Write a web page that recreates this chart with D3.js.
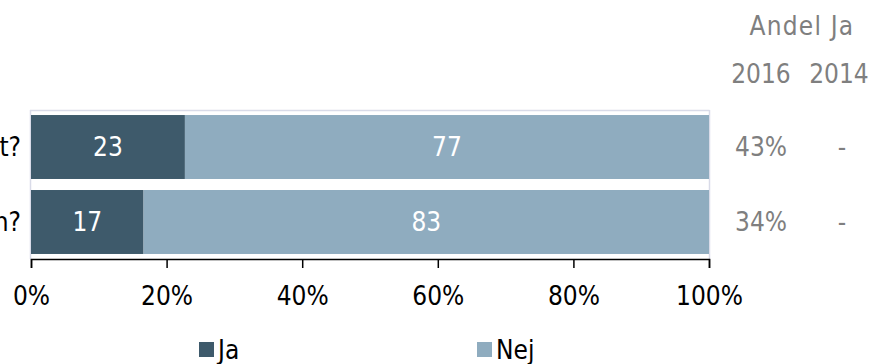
<!DOCTYPE html>
<html>
<head>
<meta charset="utf-8">
<script src="https://cdn.jsdelivr.net/npm/d3@7"></script>
<style>
  html, body { margin: 0; padding: 0; background: #fff; }
  svg { display: block; font-family: "DejaVu Sans Condensed", "DejaVu Sans", sans-serif; }
</style>
</head>
<body>
<svg id="chart" width="874" height="364"></svg>
<script>
// ---- data ----
const categories = ["Har du blivit utsatt?", "Har du sett det hända någon annan?"];
const seriesNames = ["Ja", "Nej"];
const jaValues = [22.7, 16.6];
const nejValues = [77.3, 83.4];
const jaLabels = ["23", "17"];
const nejLabels = ["77", "83"];
const share2016 = ["43%", "34%"];
const share2014 = ["-", "-"];
const sideTitle = "Andel Ja";
const sideYears = ["2016", "2014"];
const xTicks = [0, 20, 40, 60, 80, 100];

const colors = { Ja: "#3e5a6b", Nej: "#8facbf" };
const FS = 26;

const svg = d3.select("#chart");
const x = d3.scaleLinear().domain([0, 100]).range([31, 709]);
const y = d3.scaleBand().domain(categories).range([110, 259]).paddingInner(0.147).paddingOuter(0.067);

// plot area border (light)
svg.append("line").attr("x1", 30).attr("x2", 709.5).attr("y1", 110.5).attr("y2", 110.5)
  .attr("stroke", "#d9dbe8").attr("stroke-width", 1.5);
svg.append("line").attr("x1", 30.5).attr("x2", 30.5).attr("y1", 110).attr("y2", 259)
  .attr("stroke", "#d9dbe8").attr("stroke-width", 1.5);
svg.append("line").attr("x1", 709.5).attr("x2", 709.5).attr("y1", 110).attr("y2", 259)
  .attr("stroke", "#d9dbe8").attr("stroke-width", 1.5);

const rows = categories.map((c, i) => ({
  cat: c,
  segs: [
    { name: "Ja", x0: 0, x1: jaValues[i], label: jaLabels[i] },
    { name: "Nej", x0: jaValues[i], x1: jaValues[i] + nejValues[i], label: nejLabels[i] }
  ]
}));

const g = svg.append("g");
rows.forEach(r => {
  r.segs.forEach(s => {
    g.append("rect")
      .attr("x", x(s.x0)).attr("width", x(s.x1) - x(s.x0))
      .attr("y", y(r.cat)).attr("height", y.bandwidth())
      .attr("fill", colors[s.name]);
    g.append("text")
      .attr("x", (x(s.x0) + x(s.x1)) / 2)
      .attr("y", y(r.cat) + y.bandwidth() / 2)
      .attr("dy", "0.36em")
      .attr("text-anchor", "middle")
      .attr("fill", "#fff")
      .attr("font-size", FS)
      .text(s.label);
  });
  // category label (clipped off left, as in the reference)
  svg.append("text")
    .attr("x", 21).attr("y", y(r.cat) + y.bandwidth() / 2)
    .attr("dy", "0.36em").attr("text-anchor", "end")
    .attr("font-size", FS).attr("fill", "#000")
    .text(r.cat);
});

// x axis
const axis = svg.append("g").attr("transform", "translate(0,259)")
  .call(d3.axisBottom(x).tickValues(xTicks).tickSize(9).tickPadding(19).tickFormat(d => d + "%"));
axis.select(".domain").attr("stroke", "#000").attr("stroke-width", 1.5);
axis.selectAll(".tick line").attr("stroke", "#000").attr("stroke-width", 1.5);
axis.selectAll(".tick text").attr("font-size", FS).attr("fill", "#000")
  .attr("font-family", '"DejaVu Sans Condensed", "DejaVu Sans", sans-serif');

// side table
const colX = [761, 839];
svg.append("text").attr("x", (colX[0] + colX[1]) / 2 + 2).attr("y", 35)
  .attr("text-anchor", "middle").attr("font-size", FS).attr("fill", "#7f7f7f")
  .attr("letter-spacing", 1.2).text(sideTitle);
sideYears.forEach((t, i) => {
  svg.append("text").attr("x", colX[i]).attr("y", 83)
    .attr("text-anchor", "middle").attr("font-size", FS).attr("fill", "#7f7f7f").text(t);
});
categories.forEach((c, i) => {
  const cy = y(c) + y.bandwidth() / 2;
  svg.append("text").attr("x", colX[0]).attr("y", cy).attr("dy", "0.36em")
    .attr("text-anchor", "middle").attr("font-size", FS).attr("fill", "#7f7f7f").text(share2016[i]);
  svg.append("text").attr("x", colX[1] + 3).attr("y", cy).attr("dy", "0.36em")
    .attr("text-anchor", "middle").attr("font-size", FS).attr("fill", "#7f7f7f").text(share2014[i]);
});

// legend
const legendX = [199, 477];
seriesNames.forEach((n, i) => {
  svg.append("rect").attr("x", legendX[i]).attr("y", 342).attr("width", 15).attr("height", 15)
    .attr("fill", colors[n]);
  svg.append("text").attr("x", legendX[i] + 19).attr("y", 359)
    .attr("font-size", FS).attr("fill", "#000").text(n);
});
</script>
</body>
</html>
